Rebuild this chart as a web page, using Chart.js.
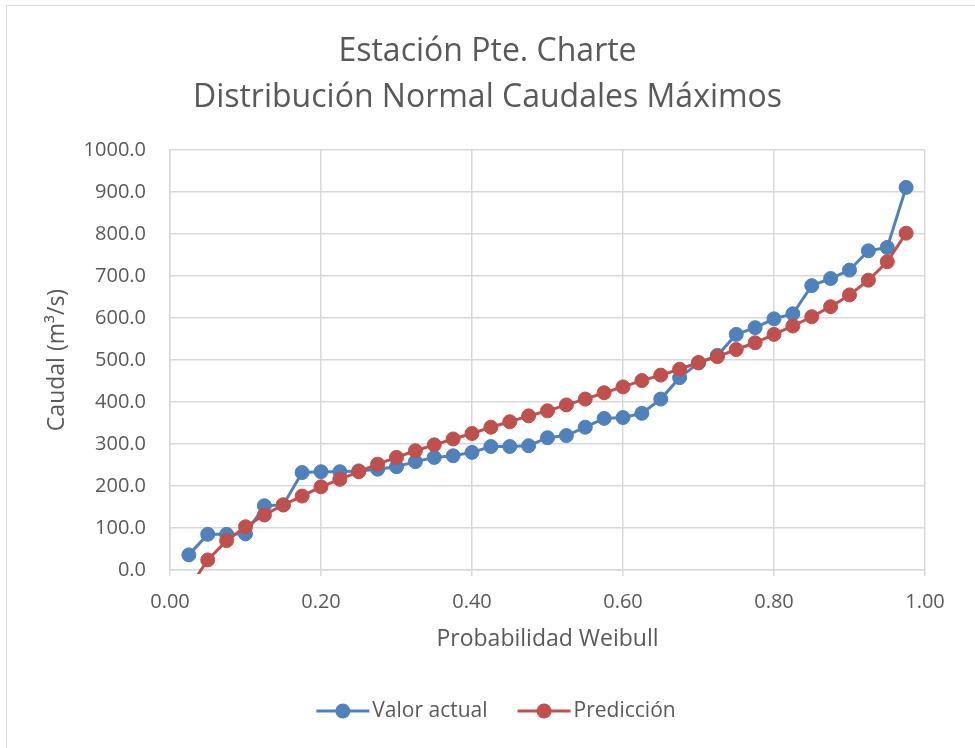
<!DOCTYPE html>
<html>
<head>
<meta charset="utf-8">
<title>Estación Pte. Charte</title>
<script src="https://cdn.jsdelivr.net/npm/chart.js@4/dist/chart.umd.min.js"></script>
<style>
  html, body { margin: 0; padding: 0; background: #fff; }
  #wrap { width: 975px; height: 748px; }
</style>
</head>
<body>
<div id="wrap"><canvas id="caudalesChart" width="975" height="748"></canvas></div>
<script>
// Probabilidad de Weibull de cada caudal ordenado
const probabilidad = [0.025, 0.05, 0.075, 0.1, 0.125, 0.15, 0.175, 0.2, 0.225, 0.25,
  0.275, 0.3, 0.325, 0.35, 0.375, 0.4, 0.425, 0.45, 0.475, 0.5,
  0.525, 0.55, 0.575, 0.6, 0.625, 0.65, 0.675, 0.7, 0.725, 0.75,
  0.775, 0.8, 0.825, 0.85, 0.875, 0.9, 0.925, 0.95, 0.975];

// Caudales máximos observados (m3/s)
const valorActual = [36, 85, 85, 86, 153, 155, 232, 234, 234, 236,
  240, 246, 258, 268, 272, 280, 294, 294, 296, 315,
  320, 340, 361, 363, 373, 407, 458, 493, 511, 561,
  577, 598, 610, 677, 694, 714, 760, 768, 911];

// Caudales según la distribución normal ajustada
const prediccion = [-44, 24, 70, 103, 131, 155, 176, 198, 216, 234,
  252, 268, 284, 298, 312, 325, 340, 353, 367, 379,
  393, 407, 422, 436, 451, 464, 478, 494, 508, 525,
  541, 561, 581, 603, 627, 655, 690, 734, 802];

const ticksX = [0, 0.2, 0.4, 0.6, 0.8, 1.0];
const ticksY = [0, 100, 200, 300, 400, 500, 600, 700, 800, 900, 1000];

const FUENTE = '"Open Sans", "Liberation Sans", sans-serif';
const GRIS_TEXTO = '#595959';
const GRIS_REJILLA = '#d9d9d9';
const AZUL = '#4f81bd';
const ROJO = '#c0504d';

// fondo blanco con marco y leyenda al estilo Excel (línea con marcador)
const marcoYLeyenda = {
  id: 'marcoYLeyenda',
  beforeDraw(chart) {
    const c = chart.ctx;
    c.save();
    c.fillStyle = '#fff';
    c.fillRect(0, 0, chart.width, chart.height);
    c.strokeStyle = GRIS_REJILLA;
    c.lineWidth = 1;
    c.strokeRect(6.5, 5.5, chart.width + 20, chart.height + 20);
    c.restore();
  },
  afterDraw(chart) {
    const c = chart.ctx;
    const largo = 53, sep = 3, hueco = 30;
    c.save();
    c.font = '21px ' + FUENTE;
    const items = chart.data.datasets.map(ds => ({ ds, ancho: largo + sep + c.measureText(ds.label).width }));
    const total = items.reduce((s, it) => s + it.ancho, 0) + hueco * (items.length - 1);
    let x = 496 - total / 2;
    const y = 711;
    items.forEach(({ ds, ancho }) => {
      c.strokeStyle = ds.borderColor;
      c.lineWidth = 3;
      c.beginPath();
      c.moveTo(x, y);
      c.lineTo(x + largo, y);
      c.stroke();
      c.fillStyle = ds.borderColor;
      c.beginPath();
      c.arc(x + largo / 2, y, 7.5, 0, Math.PI * 2);
      c.fill();
      c.fillStyle = GRIS_TEXTO;
      c.textAlign = 'left';
      c.textBaseline = 'middle';
      c.fillText(ds.label, x + largo + sep, y);
      x += ancho + hueco;
    });
    c.restore();
  }
};

const serie = (label, ys, color, order) => ({
  label,
  data: probabilidad.map((p, i) => ({ x: p, y: ys[i] })),
  borderColor: color,
  backgroundColor: color,
  borderWidth: 3,
  pointRadius: 7,
  pointBorderWidth: 1,
  pointBackgroundColor: color,
  pointBorderColor: color,
  pointHoverRadius: 7,
  tension: 0,
  order,
  clip: { left: 10, top: 10, right: 10, bottom: 4 }
});

const ctx = document.getElementById('caudalesChart').getContext('2d');

new Chart(ctx, {
  type: 'line',
  data: {
    datasets: [
      serie('Valor actual', valorActual, AZUL, 1),
      serie('Predicción', prediccion, ROJO, 0)
    ]
  },
  plugins: [marcoYLeyenda],
  options: {
    responsive: false,
    animation: false,
    events: [],
    layout: { padding: { left: 0, right: 0, top: 0, bottom: 50 } },
    plugins: {
      legend: { display: false },
      tooltip: { enabled: false },
      title: {
        display: true,
        text: ['Estación Pte. Charte', 'Distribución Normal Caudales Máximos'],
        color: GRIS_TEXTO,
        font: { family: FUENTE, size: 32, weight: 'normal', lineHeight: '46px' },
        padding: { top: 29, bottom: 29 }
      }
    },
    scales: {
      x: {
        type: 'linear',
        min: 0,
        max: 1,
        afterBuildTicks: s => { s.ticks = ticksX.map(v => ({ value: v })); },
        afterFit: s => { s.height = 128; },
        grid: { color: GRIS_REJILLA, lineWidth: 1.5, drawTicks: true, tickLength: 6, tickColor: GRIS_REJILLA },
        border: { color: GRIS_REJILLA, width: 1.5 },
        ticks: {
          color: GRIS_TEXTO,
          padding: 14,
          maxRotation: 0,
          font: { family: FUENTE, size: 20 },
          callback: v => Number(v).toFixed(2)
        },
        title: {
          display: true,
          text: 'Probabilidad Weibull',
          color: GRIS_TEXTO,
          font: { family: FUENTE, size: 23 },
          padding: { top: 0, bottom: 45 }
        }
      },
      y: {
        min: 0,
        max: 1000,
        afterBuildTicks: s => { s.ticks = ticksY.map(v => ({ value: v })); },
        afterFit: s => { s.width = 170; },
        grid: { color: GRIS_REJILLA, lineWidth: 1.5, drawTicks: false },
        border: { color: GRIS_REJILLA, width: 1.5 },
        ticks: {
          color: GRIS_TEXTO,
          padding: 24,
          font: { family: FUENTE, size: 20 },
          callback: v => Number(v).toFixed(1)
        },
        title: {
          display: true,
          text: 'Caudal (m³/s)',
          color: GRIS_TEXTO,
          font: { family: FUENTE, size: 23 },
          padding: 44
        }
      },
      // margen derecho del área de trazado
      margenDerecho: {
        type: 'linear',
        position: 'right',
        grid: { display: false },
        border: { display: false },
        ticks: { display: false },
        afterFit: s => { s.width = 50; }
      }
    }
  }
});
</script>
</body>
</html>
